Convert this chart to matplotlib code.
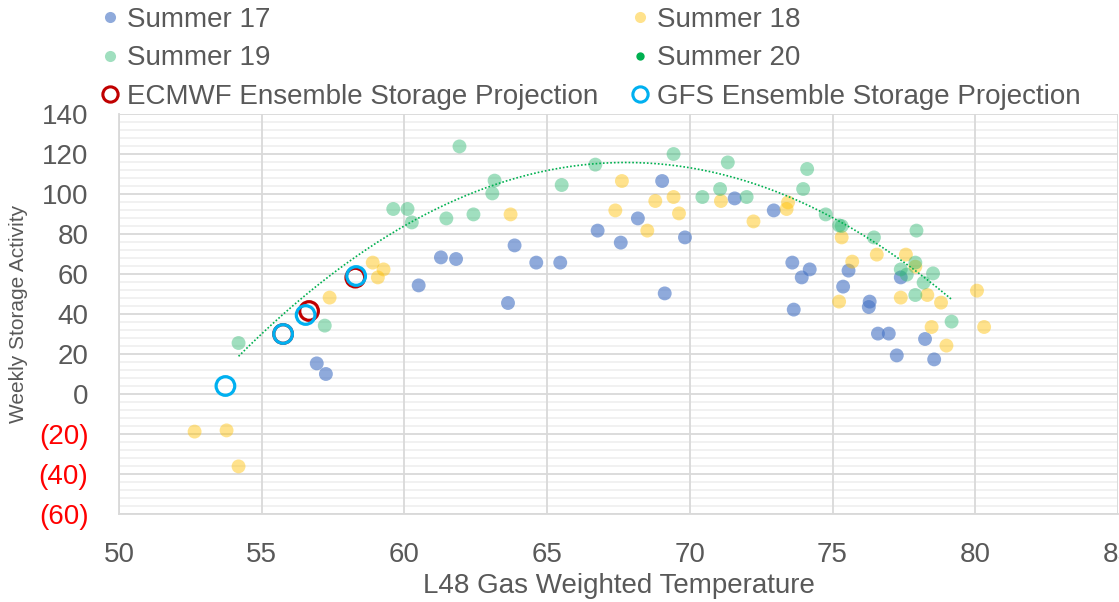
import numpy as np
import matplotlib
matplotlib.use("Agg")
import matplotlib.pyplot as plt
from matplotlib.lines import Line2D
from matplotlib.ticker import MultipleLocator, FixedLocator, FixedFormatter

plt.rcParams['font.family'] = ['Liberation Sans', 'DejaVu Sans']

# ---- data ----
s17_x = [56.93, 57.25, 60.5, 61.28, 61.81, 63.86, 63.63, 64.62, 65.46, 66.77, 67.58, 68.18, 69.03, 69.12,
         69.83, 71.57, 72.94, 73.59, 73.64, 73.92, 74.2, 75.56, 75.37, 76.3, 76.27, 76.59, 76.97, 77.25,
         77.39, 78.24, 78.56]
s17_y = [15.3, 10, 54.3, 68.3, 67.5, 74.3, 45.5, 65.7, 65.7, 81.7, 75.7, 87.8, 106.5, 50.3,
         78.3, 97.8, 91.8, 65.7, 42.2, 58.3, 62.3, 61.7, 53.7, 46.2, 43.5, 30.2, 30.2, 19.3,
         58.3, 27.5, 17.3]

s18_x = [52.65, 53.77, 54.19, 57.38, 58.89, 59.27, 59.07, 63.72, 67.39, 67.62, 68.51, 68.79, 69.43, 69.62,
         71.09, 72.23, 73.44, 73.39, 75.32, 75.23, 75.69, 76.55, 77.57, 77.9, 77.39, 78.32, 78.8, 78.47,
         78.99, 80.06, 80.31]
s18_y = [-18.8, -18.2, -36.2, 48.2, 65.7, 62.3, 58.3, 89.8, 91.8, 106.5, 81.7, 96.5, 98.5, 90.3,
         96.5, 86.3, 95.8, 92.5, 78.3, 46.2, 66.2, 69.7, 69.7, 63.7, 48.2, 49.5, 45.7, 33.5,
         24.2, 51.7, 33.5]

s19_x = [54.19, 57.21, 59.61, 60.11, 60.26, 61.93, 61.47, 62.42, 63.16, 63.08, 65.51, 66.69, 69.43, 70.44,
         71.06, 71.33, 71.99, 73.97, 74.11, 74.76, 75.23, 75.32, 76.45, 77.94, 77.9, 77.39, 77.6, 77.9,
         78.19, 78.52, 79.17]
s19_y = [25.5, 34.2, 92.5, 92.5, 85.8, 123.8, 87.8, 89.8, 106.7, 100.3, 104.5, 114.7, 120, 98.5,
         102.5, 115.8, 98.5, 102.5, 112.5, 89.8, 84.3, 84.0, 78.3, 81.7, 65.7, 62.3, 59.7, 49.5,
         55.7, 60.3, 36.2]

s20_x = []
s20_y = []

ecmwf_x = [58.28, 56.66, 55.75]
ecmwf_y = [58.2, 41.5, 30.0]
gfs_x = [58.31, 56.54, 55.75, 53.73]
gfs_y = [59.0, 39.5, 30.0, 4.0]

y_ticks = [-60, -40, -20, 0, 20, 40, 60, 80, 100, 120, 140]
y_labels = ["(60)", "(40)", "(20)", "0", "20", "40", "60", "80", "100", "120", "140"]
x_ticks = [50, 55, 60, 65, 70, 75, 80, 85]
x_labels = ["50", "55", "60", "65", "70", "75", "80", "85"]

# ---- colours ----
c17 = '#4472C4'
c18 = '#FFC000'
c19 = '#2EB872'
c20 = '#00B050'
c_ec = '#C00000'
c_gfs = '#00B0F0'
txt = '#595959'

fig = plt.figure(figsize=(11.19, 6.02), dpi=100)
ax = fig.add_axes([0.1063, 0.1462, 0.8928, 0.6644])

dot = 100
ax.scatter(s17_x, s17_y, s=dot, color=c17, alpha=0.6, edgecolors='none', zorder=3)
ax.scatter(s18_x, s18_y, s=dot, color=c18, alpha=0.45, edgecolors='none', zorder=3)
ax.scatter(s19_x, s19_y, s=dot, color=c19, alpha=0.45, edgecolors='none', zorder=3)
ax.scatter(s20_x, s20_y, s=dot, color=c20, edgecolors='none', zorder=3)

# polynomial trendline of Summer 19
coef = np.polyfit(s19_x, s19_y, 2)
tx = np.linspace(min(s19_x), max(s19_x), 200)
ax.plot(tx, np.polyval(coef, tx), color='#00B050', lw=1.2, ls=(0, (1, 1.2)), zorder=4)

ax.scatter(ecmwf_x, ecmwf_y, s=180, facecolors='none', edgecolors=c_ec, linewidths=2.3, zorder=5)
ax.scatter(gfs_x, gfs_y, s=180, facecolors='none', edgecolors=c_gfs, linewidths=2.3, zorder=6)

ax.set_xlim(50, 85)
ax.set_ylim(-60, 140)
ax.xaxis.set_major_locator(FixedLocator(x_ticks))
ax.xaxis.set_major_formatter(FixedFormatter(x_labels))
ax.yaxis.set_major_locator(FixedLocator(y_ticks))
ax.yaxis.set_major_formatter(FixedFormatter(y_labels))
ax.yaxis.set_minor_locator(MultipleLocator(4))

ax.grid(which='major', axis='both', color='#D9D9D9', lw=1.3)
ax.grid(which='minor', axis='y', color='#F0F0F0', lw=1.3)
ax.set_axisbelow(True)
ax.yaxis.set_zorder(0.4)
ax.xaxis.set_zorder(0.6)
for side in ['top', 'right']:
    ax.spines[side].set_visible(False)
for side in ['left', 'bottom']:
    ax.spines[side].set_color('#D9D9D9')
    ax.spines[side].set_linewidth(1.3)

ax.tick_params(axis='both', which='both', length=0, labelsize=20, labelcolor=txt)
ax.tick_params(axis='x', pad=20)
ax.tick_params(axis='y', pad=22)
for lab, v in zip(ax.get_yticklabels(), y_ticks):
    if v < 0:
        lab.set_color('red')

ax.set_xlabel('L48 Gas Weighted Temperature', fontsize=20, color=txt, labelpad=4)
ax.set_ylabel('Weekly Storage Activity', fontsize=15, color=txt, labelpad=8)

handles = [
    Line2D([], [], ls='none', marker='o', ms=8, color=c17, alpha=0.6, mec='none'),
    Line2D([], [], ls='none', marker='o', ms=8, color=c19, alpha=0.45, mec='none'),
    Line2D([], [], ls='none', marker='o', ms=11, mfc='none', mec=c_ec, mew=2.2),
    Line2D([], [], ls='none', marker='o', ms=8, color=c18, alpha=0.45, mec='none'),
    Line2D([], [], ls='none', marker='o', ms=6, color=c20, mec='none'),
    Line2D([], [], ls='none', marker='o', ms=11, mfc='none', mec=c_gfs, mew=2.2),
]
labels = ['Summer 17', 'Summer 19', 'ECMWF Ensemble Storage Projection',
          'Summer 18', 'Summer 20', 'GFS Ensemble Storage Projection']
leg = fig.legend(handles, labels, ncol=2, loc='upper left', bbox_to_anchor=(0.081, 1.007),
                 frameon=False, fontsize=20, handlelength=0.6, handletextpad=0.3,
                 columnspacing=1.22, labelspacing=0.45, borderaxespad=0)
for t in leg.get_texts():
    t.set_color(txt)

fig.savefig('out.png', dpi=100)
